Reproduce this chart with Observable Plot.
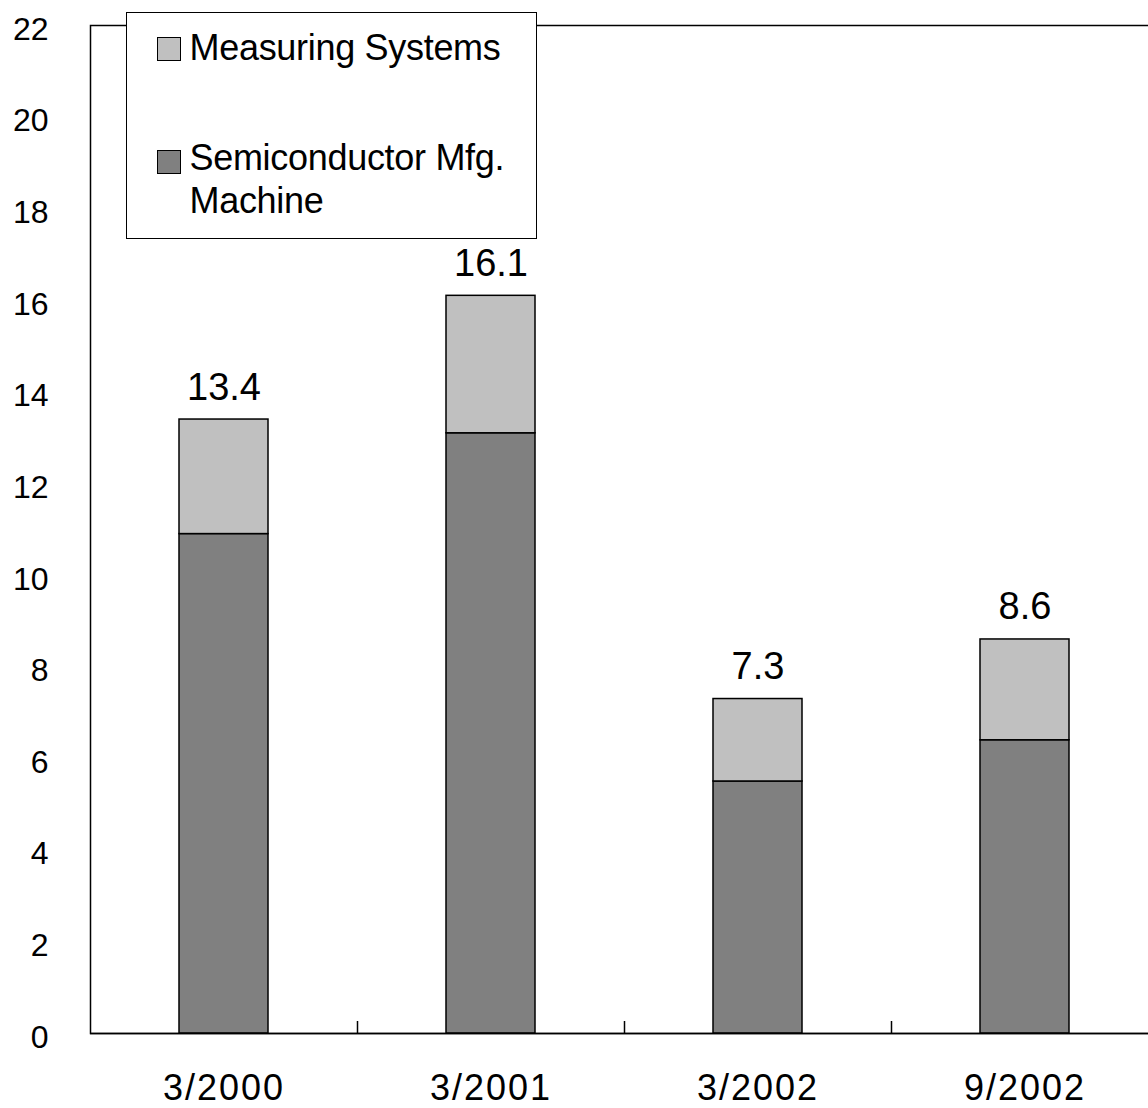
<!DOCTYPE html>
<html>
<head>
<meta charset="utf-8">
<script src="https://cdn.jsdelivr.net/npm/d3@7"></script>
<script src="https://cdn.jsdelivr.net/npm/@observablehq/plot@0.6"></script>
<style>
  html, body { margin: 0; padding: 0; background: #fff; }
  #wrap { position: relative; width: 1148px; height: 1108px; overflow: hidden; font-family: "Liberation Sans", Arial, sans-serif; }
  #legend { position: absolute; left: 126px; top: 12px; width: 409px; height: 225px; border: 1.5px solid #000; background: #fff; box-sizing: content-box; }
  .sw { position: absolute; width: 22px; height: 22px; border: 1.5px solid #000; }
  .lt { position: absolute; left: 62.5px; font-size: 36px; line-height: 43px; letter-spacing: -0.3px; color: #000; white-space: nowrap; }
</style>
</head>
<body>
<div id="wrap"></div>
<script>
const categories = ["3/2000", "3/2001", "3/2002", "9/2002"];
const semiconductor = [10.9, 13.1, 5.5, 6.4];
const measuring = [2.5, 3.0, 1.8, 2.2];
const totals = [13.4, 16.1, 7.3, 8.6];
const yTicks = [0, 2, 4, 6, 8, 10, 12, 14, 16, 18, 20, 22];
const seriesNames = ["Semiconductor Mfg. Machine", "Measuring Systems"];
const seriesColors = ["#808080", "#c0c0c0"];

const rows = [];
categories.forEach((c, i) => {
  rows.push({cat: c, series: seriesNames[0], value: semiconductor[i]});
  rows.push({cat: c, series: seriesNames[1], value: measuring[i]});
});
const labels = categories.map((c, i) => ({cat: c, total: totals[i]}));

const W = 1148, H = 1108, mL = 90, mR = -10, mT = 25, mB = 75;
const step = (W - mR - mL) / categories.length;
const font = '"Liberation Sans", Arial, sans-serif';

const chart = Plot.plot({
  width: W, height: H,
  marginLeft: mL, marginRight: mR, marginTop: mT, marginBottom: mB,
  style: {background: "#fff", fontFamily: font, color: "#000", overflow: "hidden"},
  x: {domain: categories, paddingInner: 0.667, paddingOuter: 0.333},
  y: {domain: [0, 22]},
  color: {domain: seriesNames, range: seriesColors},
  marks: [
    Plot.frame({stroke: "#000", strokeWidth: 1.5}),
    Plot.barY(rows, {x: "cat", y: "value", fill: "series", stroke: "#000", strokeWidth: 1.5}),
    Plot.tickX(categories.slice(1), {x: d => d, dx: -step / 2, stroke: "#000", strokeWidth: 1.5, insetTop: H - mT - mB - 12}),
    Plot.text(labels, {x: "cat", y: "total", text: d => d.total.toFixed(1), fontSize: 38, lineAnchor: "bottom", dy: -20, fill: "#000"}),
    Plot.axisY({ticks: yTicks, tickSize: 0, tickPadding: 42, fontSize: 32, dy: 4, label: null, anchor: "left"}),
    Plot.axisX({tickSize: 0, tickPadding: 41, fontSize: 36, label: null, anchor: "bottom"}),
    Plot.ruleY([0], {stroke: "#000", strokeWidth: 1.5})
  ]
});
d3.select(chart).selectAll('g[aria-label="x-axis tick label"] text').style("letter-spacing", "2px");
const wrap = document.getElementById("wrap");
wrap.appendChild(chart);

const legend = document.createElement("div");
legend.id = "legend";
legend.innerHTML = `
  <div class="sw" style="left:30px;top:24px;background:${seriesColors[1]}"></div>
  <div class="lt" style="top:12.5px">${seriesNames[1]}</div>
  <div class="sw" style="left:30px;top:136.5px;background:${seriesColors[0]}"></div>
  <div class="lt" style="top:122.5px">Semiconductor Mfg.<br>Machine</div>`;
wrap.appendChild(legend);
</script>
</body>
</html>
